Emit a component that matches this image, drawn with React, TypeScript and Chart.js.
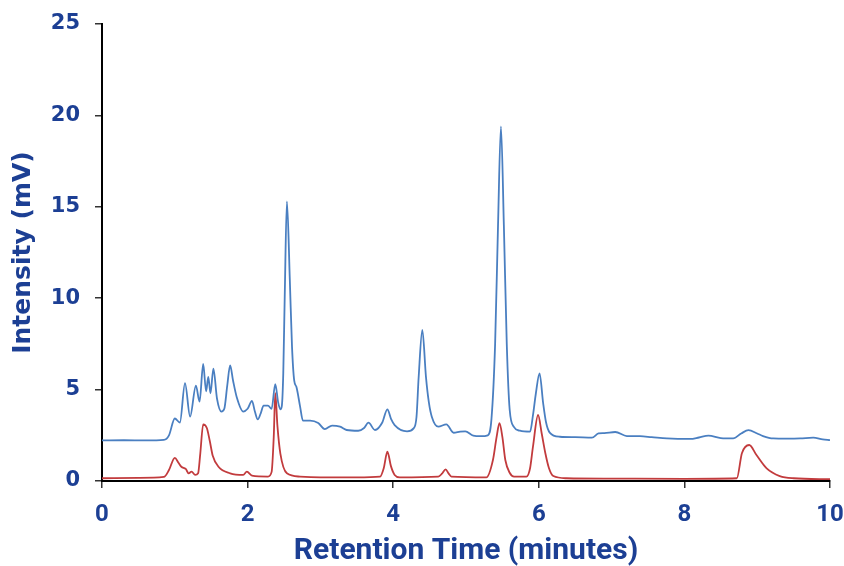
import React, { useEffect, useRef } from "react";
import { Chart, registerables } from "chart.js";

Chart.register(...registerables);

// Blue trace (upper chromatogram)
const blueX = [0.0, 0.3, 0.6, 0.85, 0.92, 1.0, 1.07, 1.14, 1.21, 1.29, 1.34, 1.39, 1.43, 1.46, 1.49, 1.53, 1.58, 1.64, 1.68, 1.72, 1.76, 1.8, 1.85, 1.94, 2.0, 2.06, 2.1, 2.14, 2.18, 2.22, 2.28, 2.33, 2.38, 2.42, 2.45, 2.47, 2.49, 2.51, 2.54, 2.58, 2.61, 2.64, 2.67, 2.72, 2.76, 2.86, 2.97, 3.06, 3.16, 3.27, 3.36, 3.52, 3.6, 3.66, 3.75, 3.85, 3.92, 3.97, 4.02, 4.19, 4.28, 4.32, 4.35, 4.4, 4.45, 4.49, 4.53, 4.62, 4.73, 4.83, 4.92, 4.99, 5.1, 5.2, 5.3, 5.35, 5.4, 5.44, 5.48, 5.52, 5.56, 5.6, 5.66, 5.74, 5.88, 5.92, 5.96, 6.01, 6.06, 6.1, 6.15, 6.29, 6.5, 6.73, 6.82, 6.9, 7.05, 7.21, 7.39, 7.55, 7.76, 8.08, 8.2, 8.33, 8.5, 8.67, 8.78, 8.88, 9.0, 9.08, 9.22, 9.4, 9.59, 9.77, 9.9, 10.0];
const blueY = [2.22, 2.23, 2.22, 2.25, 2.5, 3.42, 3.2, 5.35, 3.52, 5.22, 4.34, 6.4, 4.9, 5.7, 4.8, 6.15, 4.5, 3.8, 3.95, 5.2, 6.33, 5.5, 4.6, 3.8, 3.95, 4.38, 3.8, 3.37, 3.7, 4.12, 4.12, 3.95, 5.3, 4.3, 3.92, 4.1, 5.9, 10.1, 15.3, 11.0, 7.35, 5.5, 5.15, 4.1, 3.3, 3.3, 3.17, 2.84, 3.03, 2.97, 2.79, 2.75, 2.9, 3.19, 2.79, 3.2, 3.92, 3.4, 3.06, 2.72, 2.88, 3.5, 5.7, 8.26, 5.7, 4.3, 3.52, 2.97, 3.1, 2.64, 2.7, 2.72, 2.48, 2.45, 2.5, 3.4, 7.5, 14.0, 19.4, 14.0, 7.5, 3.9, 2.95, 2.75, 2.7, 3.6, 4.8, 5.89, 4.25, 3.2, 2.65, 2.42, 2.4, 2.37, 2.6, 2.62, 2.68, 2.46, 2.45, 2.4, 2.33, 2.3, 2.38, 2.48, 2.35, 2.33, 2.6, 2.78, 2.6, 2.46, 2.33, 2.32, 2.33, 2.37, 2.28, 2.24];

// Red trace (lower chromatogram)
const redX = [0.0, 0.5, 0.85, 0.92, 1.0, 1.05, 1.09, 1.15, 1.19, 1.23, 1.28, 1.32, 1.35, 1.39, 1.44, 1.48, 1.52, 1.6, 1.76, 1.94, 1.99, 2.06, 2.28, 2.33, 2.36, 2.38, 2.41, 2.45, 2.54, 2.72, 3.0, 3.5, 3.82, 3.87, 3.92, 3.97, 4.02, 4.09, 4.62, 4.67, 4.72, 4.76, 4.8, 5.28, 5.37, 5.42, 5.46, 5.5, 5.54, 5.6, 5.66, 5.83, 5.88, 5.92, 5.99, 6.04, 6.09, 6.14, 6.2, 6.38, 7.0, 8.0, 8.72, 8.79, 8.89, 8.99, 9.13, 9.31, 9.5, 10.0];
const redY = [0.15, 0.17, 0.22, 0.6, 1.27, 1.0, 0.78, 0.66, 0.42, 0.51, 0.33, 0.42, 1.5, 3.1, 2.9, 2.2, 1.4, 0.78, 0.42, 0.33, 0.51, 0.29, 0.24, 0.5, 2.5, 4.8, 3.0, 1.5, 0.42, 0.24, 0.2, 0.2, 0.24, 0.7, 1.6, 0.8, 0.33, 0.2, 0.24, 0.4, 0.64, 0.42, 0.24, 0.2, 1.15, 2.4, 3.16, 2.4, 1.15, 0.45, 0.24, 0.24, 0.7, 1.88, 3.61, 2.6, 1.52, 0.7, 0.27, 0.15, 0.13, 0.12, 0.15, 1.52, 1.97, 1.42, 0.69, 0.27, 0.15, 0.1];

const xTicks = [0, 2, 4, 6, 8, 10];
const yTicks = [0, 5, 10, 15, 20, 25];
const xTitle = "Retention Time (minutes)";
const yTitle = "Intensity (mV)";

const TEXT = "#1c3f94";

export default function App() {
  const ref = useRef<HTMLCanvasElement | null>(null);
  useEffect(() => {
    if (!ref.current) return;
    const blue = blueX.map((x, i) => ({ x, y: blueY[i] }));
    const red = redX.map((x, i) => ({ x, y: redY[i] }));
    const chart = new Chart(ref.current, {
      type: "line",
      data: {
        datasets: [
          {
            data: blue,
            borderColor: "#4a7fc1",
            borderWidth: 1.8,
            pointRadius: 0,
            cubicInterpolationMode: "monotone",
            fill: false,
          },
          {
            data: red,
            borderColor: "#c23b3d",
            borderWidth: 1.8,
            pointRadius: 0,
            cubicInterpolationMode: "monotone",
            fill: false,
          },
        ],
      },
      options: {
        animation: false,
        responsive: false,
        maintainAspectRatio: false,
        layout: { padding: { left: 0, right: 14, top: 24, bottom: 0 } },
        plugins: { legend: { display: false }, tooltip: { enabled: false } },
        scales: {
          x: {
            type: "linear",
            min: 0,
            max: 10,
            afterBuildTicks: (s: any) => {
              s.ticks = xTicks.map((v) => ({ value: v }));
            },
            afterFit: (s: any) => {
              s.height = 85;
              s.paddingRight = 0;
              s.paddingLeft = 0;
            },
            border: { color: "#000", width: 2 },
            grid: { drawOnChartArea: false, drawTicks: true, tickLength: 7, color: "#333", lineWidth: 1.5 },
            ticks: {
              color: TEXT,
              padding: 13,
              maxRotation: 0,
              font: { family: "Roboto, sans-serif", weight: "bold", size: 24 },
            },
            title: {
              display: true,
              text: xTitle,
              color: TEXT,
              padding: 0,
              font: { family: "Roboto, sans-serif", weight: "bold", size: 30, lineHeight: 1 },
            },
          },
          y: {
            type: "linear",
            min: 0,
            max: 25,
            afterBuildTicks: (s: any) => {
              s.ticks = yTicks.map((v) => ({ value: v }));
            },
            afterFit: (s: any) => {
              s.width = 102;
              s.paddingTop = 0;
              s.paddingBottom = 0;
            },
            border: { color: "#000", width: 2 },
            grid: { drawOnChartArea: false, drawTicks: true, tickLength: 7, color: "#333", lineWidth: 1.5 },
            ticks: {
              color: TEXT,
              padding: 15,
              font: { family: "'DejaVu Sans', Verdana, sans-serif", weight: "bold", size: 21 },
            },
            title: {
              display: true,
              text: yTitle,
              color: TEXT,
              padding: { top: 8, bottom: 0 },
              font: { family: "'DejaVu Sans', Verdana, sans-serif", weight: "bold", size: 25, lineHeight: 1.2 },
            },
          },
        },
      },
    });
    return () => chart.destroy();
  }, []);
  return (
    <div style={{ position: "fixed", left: 0, top: 0, width: 844, height: 566, background: "#fff" }}>
      <canvas ref={ref} width={844} height={566} style={{ width: 844, height: 566 }} />
    </div>
  );
}
